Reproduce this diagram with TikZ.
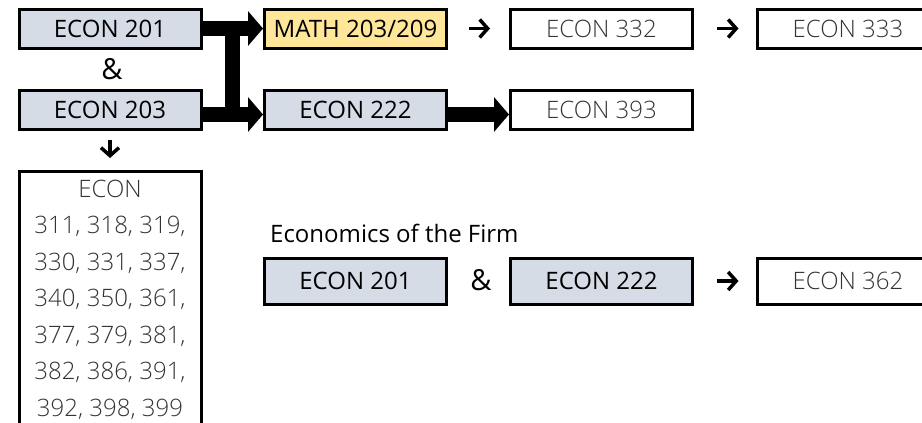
\documentclass[tikz,border=0pt]{standalone}
\usepackage{fontspec}
\setmainfont{Open Sans}
\IfFontExistsTF{Open Sans Light}{\newfontfamily\lightfont{Open Sans Light}}{\newfontfamily\lightfont{Open Sans}}
\usetikzlibrary{arrows.meta,calc}
\definecolor{boxgrey}{HTML}{D6DCE5}
\definecolor{boxyellow}{HTML}{FFE699}
\definecolor{lighttext}{HTML}{333333}
\begin{document}
\begin{tikzpicture}[x=1pt,y=-1pt,
  font=\fontsize{24}{29}\selectfont,
  box/.style={draw=black,line width=3pt,minimum width=182pt,minimum height=39pt,inner sep=0pt,anchor=center},
  oneline/.style={text height=17pt,text depth=0pt},
  greybox/.style={box,oneline,fill=boxgrey},
  yellowbox/.style={box,oneline,fill=boxyellow},
  whitebox/.style={box,oneline,fill=white,text=lighttext,font=\lightfont\fontsize{24}{29}\selectfont},
  plaintext/.style={inner sep=0pt},
  amptext/.style={inner sep=0pt,font=\fontsize{29}{34}\selectfont},
  fatarrow/.style={line width=15pt,-{Triangle[length=15pt,width=34pt]}},
  smallarrow/.style={line width=3.5pt,-{Straight Barb[length=8pt,width=18pt]}}
]
\useasboundingbox (0,0) rectangle (922,423);
\clip (0,0) rectangle (922,423);
\fill[white] (0,0) rectangle (922,423);

% row 1 and 2
\node[greybox] (a201) at (110,28.5) {ECON 201};
\node[amptext] (amp1) at (112,69) {\&};
\node[greybox] (a203) at (110,109.5) {ECON 203};
\node[yellowbox] (math) at (355.5,28.5) {MATH 203/209};
\node[greybox] (e222) at (355.5,109.5) {ECON 222};
\node[whitebox] (e332) at (601.5,28.5) {ECON 332};
\node[whitebox] (e333) at (848,28.5) {ECON 333};
\node[whitebox] (e393) at (601.5,109.5) {ECON 393};

% list
\node[box,fill=white,text=lighttext,minimum height=256pt,anchor=north,align=center,
      font=\lightfont\fontsize{24}{36.5}\selectfont] (list) at (110,170)
  {ECON\\311, 318, 319,\\330, 331, 337,\\340, 350, 361,\\377, 379, 381,\\382, 386, 391,\\392, 398, 399};

% economics of the firm
\node[plaintext,anchor=west] (firm) at (270,233) {Economics of the Firm};
\node[greybox,minimum height=46pt] (b201) at (355.5,281) {ECON 201};
\node[amptext] (amp2) at (481,280) {\&};
\node[greybox,minimum height=46pt] (b222) at (601.5,281) {ECON 222};
\node[whitebox,minimum height=46pt] (e362) at (848,281) {ECON 362};

% thick arrows
\coordinate (jt) at ($(a201.east)!0.5!(math.west)$);
\coordinate (jb) at ($([yshift=-5pt]a203.east)!0.5!([yshift=-5pt]e222.west)$);
\draw[line width=15pt] ([yshift=7.5pt]jt) -- ([yshift=-7.5pt]jb);
\draw[fatarrow] (a201.east) -- (math.west);
\draw[fatarrow] ([yshift=-5pt]a203.east) -- ([yshift=-5pt]e222.west);
\draw[fatarrow] ([yshift=-5pt]e222.east) -- ([yshift=-5pt]e393.west);

% small arrows
\draw[smallarrow,shorten <=21pt,shorten >=19pt] (math.east) -- (e332.west);
\draw[smallarrow,shorten <=23pt,shorten >=17pt] (e332.east) -- (e333.west);
\draw[smallarrow,shorten <=23pt,shorten >=17pt] (b222.east) -- (e362.west);
\draw[smallarrow,shorten <=9pt,shorten >=12pt] (a203.south) -- (list.north);
\end{tikzpicture}
\end{document}
